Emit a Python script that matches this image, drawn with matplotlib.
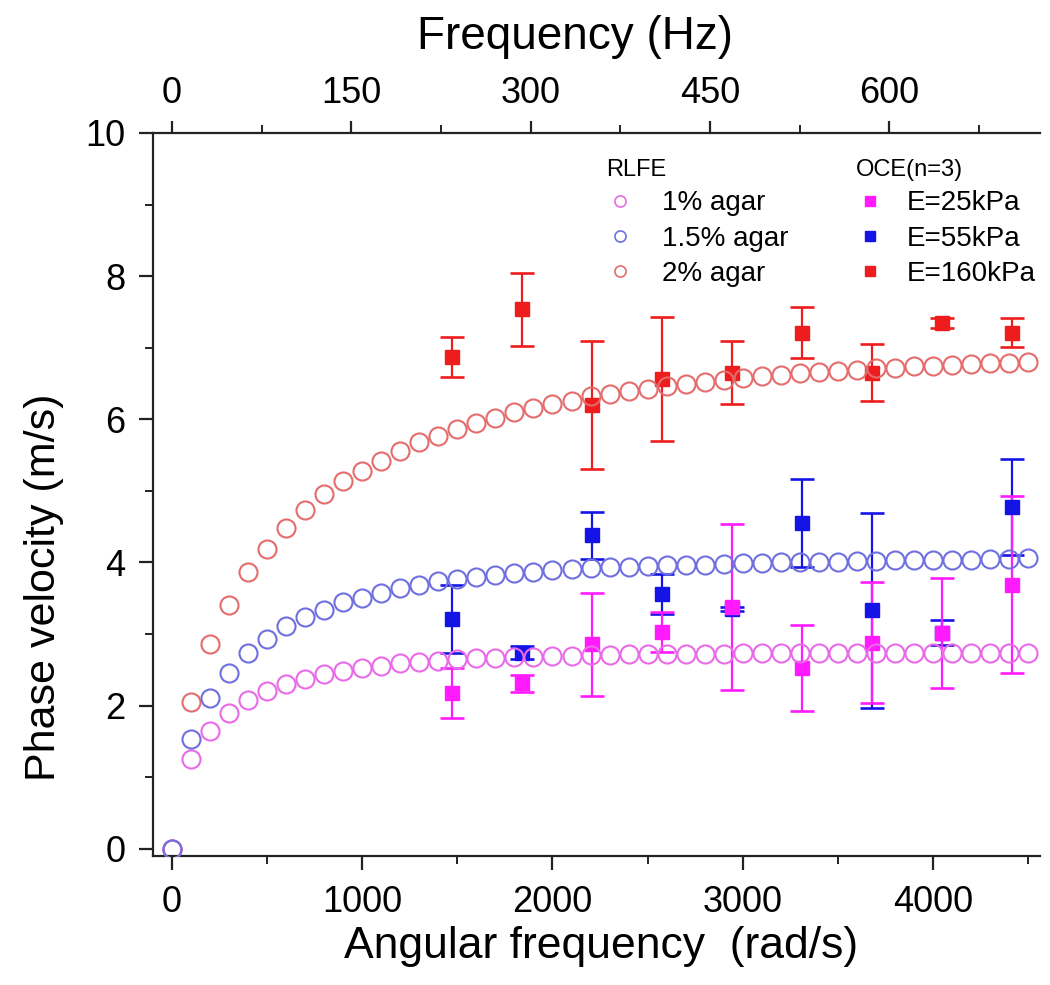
import numpy as np
import matplotlib
matplotlib.use("Agg")
import matplotlib.pyplot as plt
from matplotlib.lines import Line2D
from matplotlib.ticker import MultipleLocator, FixedLocator

plt.rcParams['font.family'] = ['Liberation Sans', 'DejaVu Sans']

# ---------------- data ----------------
omega_rlfe = list(range(0, 4501, 100))  # rad/s

v_1pct = [0.00, 1.25, 1.64, 1.90, 2.08, 2.20, 2.30, 2.37, 2.44, 2.49,
          2.53, 2.56, 2.59, 2.61, 2.63, 2.65, 2.66, 2.67, 2.68, 2.68,
          2.69, 2.70, 2.71, 2.71, 2.72,
          2.72, 2.72, 2.72, 2.72, 2.72, 2.73, 2.73, 2.73, 2.73, 2.73,
          2.73, 2.73, 2.73, 2.74, 2.74, 2.74, 2.74, 2.74, 2.74, 2.74, 2.74]

v_15pct = [0.00, 1.53, 2.10, 2.46, 2.73, 2.93, 3.11, 3.24, 3.34, 3.45,
           3.51, 3.58, 3.64, 3.69, 3.74, 3.77, 3.80, 3.82, 3.85, 3.87,
           3.89, 3.91, 3.92, 3.93, 3.94,
           3.95, 3.96, 3.97, 3.97, 3.98, 3.99, 3.99, 4.00, 4.00, 4.01,
           4.01, 4.02, 4.02, 4.03, 4.03, 4.04, 4.04, 4.04, 4.05, 4.05, 4.06]

v_2pct = [0.00, 2.05, 2.86, 3.41, 3.86, 4.19, 4.48, 4.74, 4.95, 5.14,
          5.28, 5.42, 5.56, 5.68, 5.77, 5.87, 5.95, 6.02, 6.10, 6.16,
          6.22, 6.26, 6.32, 6.36, 6.39,
          6.42, 6.46, 6.49, 6.52, 6.55, 6.58, 6.60, 6.62, 6.64, 6.66,
          6.68, 6.69, 6.71, 6.72, 6.74, 6.75, 6.76, 6.77, 6.78, 6.79, 6.80]

omega_oce = [1473, 1841, 2209, 2577, 2945, 3313, 3682, 4050, 4418]
oce_25 = [2.18, 2.31, 2.86, 3.03, 3.38, 2.53, 2.88, 3.02, 3.69]
oce_25_err = [0.35, 0.12, 0.72, 0.28, 1.16, 0.60, 0.85, 0.77, 1.24]
oce_55 = [3.21, 2.74, 4.38, 3.56, 3.35, 4.55, 3.33, 3.02, 4.78]
oce_55_err = [0.48, 0.09, 0.33, 0.28, 0.03, 0.62, 1.36, 0.17, 0.67]
oce_160 = [6.87, 7.54, 6.20, 6.56, 6.65, 7.21, 6.65, 7.34, 7.21]
oce_160_err = [0.28, 0.51, 0.90, 0.87, 0.44, 0.36, 0.40, 0.07, 0.20]

rlfe_labels = ['1% agar', '1.5% agar', '2% agar']
oce_labels = ['E=25kPa', 'E=55kPa', 'E=160kPa']

hz_major = [0, 150, 300, 450, 600]
hz_minor = [75, 225, 375, 525, 675]

# ---------------- styling ----------------
c_pink_c = '#e96ae9'
c_blue_c = '#6f6fe0'
c_red_c = '#e46c6c'
c_mag = '#ff1aff'
c_blue = '#1414e6'
c_red = '#ee1c1c'
axc = '#222222'

fig = plt.figure(figsize=(10.5, 9.85), dpi=100)
ax = fig.add_axes([0.1457, 0.131, 0.8443, 0.734])

err_kw = dict(fmt='s', markersize=9.5, elinewidth=1.6, capsize=8.5, capthick=1.9, zorder=3)
ax.errorbar(omega_oce, oce_160, yerr=oce_160_err, color=c_red, **err_kw)
ax.errorbar(omega_oce, oce_55, yerr=oce_55_err, color=c_blue, **err_kw)
ax.errorbar(omega_oce, oce_25, yerr=oce_25_err, color=c_mag, **err_kw)

circ_kw = dict(linestyle='none', marker='o', markersize=13, markerfacecolor='none',
               markeredgewidth=1.5, zorder=4)
ax.plot(omega_rlfe, v_2pct, color=c_red_c, **circ_kw)
ax.plot(omega_rlfe, v_1pct, color=c_pink_c, **circ_kw)
ax.plot(omega_rlfe, v_15pct, color=c_blue_c, **circ_kw)

ax.set_xlim(-100, 4560)
ax.set_ylim(-0.1, 10.0)

ax.spines['right'].set_visible(False)
ax.spines['top'].set_visible(False)
for s in ['left', 'bottom']:
    ax.spines[s].set_linewidth(1.6)
    ax.spines[s].set_color(axc)

ax.xaxis.set_major_locator(MultipleLocator(1000))
ax.xaxis.set_minor_locator(MultipleLocator(500))
ax.yaxis.set_major_locator(MultipleLocator(2))
ax.yaxis.set_minor_locator(MultipleLocator(1))
ax.tick_params(which='major', direction='out', length=10, width=1.6, labelsize=26,
               color=axc)
ax.tick_params(which='minor', direction='out', length=5.5, width=1.4, color=axc)
ax.tick_params(axis='x', which='major', pad=11)
ax.tick_params(axis='y', which='major', pad=10)

ax.set_xlabel('Angular frequency  (rad/s)', fontsize=32)
ax.xaxis.set_label_coords(0.505, -0.097)
ax.set_ylabel('Phase velocity (m/s)', fontsize=31)
ax.yaxis.set_label_coords(-0.10, 0.372)

two_pi = 2 * np.pi
sec = ax.secondary_xaxis('top', functions=(lambda w: w / two_pi, lambda f: f * two_pi))
sec.xaxis.set_major_locator(FixedLocator(hz_major))
sec.xaxis.set_minor_locator(FixedLocator(hz_minor))
sec.tick_params(which='major', direction='out', length=9, width=1.6, labelsize=26, pad=7,
                color=axc)
sec.tick_params(which='minor', direction='out', length=5.5, width=1.4, color=axc)
sec.spines['top'].set_linewidth(1.6)
sec.spines['top'].set_color(axc)
sec.set_xlabel('Frequency (Hz)', fontsize=33, labelpad=19)
sec.xaxis.label.set_x(0.476)

# legends
h_rlfe = [Line2D([], [], linestyle='none', marker='o', markersize=8, markerfacecolor='none',
                 markeredgewidth=1.2, color=c) for c in [c_pink_c, c_blue_c, c_red_c]]
h_oce = [Line2D([], [], linestyle='none', marker='s', markersize=7, color=c)
         for c in [c_mag, c_blue, c_red]]

leg1 = fig.legend(h_rlfe, rlfe_labels, title='RLFE', loc='upper left',
                  bbox_to_anchor=(0.559, 0.858), frameon=False, fontsize=20,
                  title_fontsize=17, handlelength=1.0, handletextpad=1.0,
                  labelspacing=0.33, borderpad=0.2)
leg1._legend_box.align = 'left'
leg2 = fig.legend(h_oce, oce_labels, title='OCE(n=3)', loc='upper left',
                  bbox_to_anchor=(0.797, 0.858), frameon=False, fontsize=20,
                  title_fontsize=17, handlelength=1.0, handletextpad=0.83,
                  labelspacing=0.33, borderpad=0.2)
leg2._legend_box.align = 'left'

fig.savefig('out.png', dpi=100)
